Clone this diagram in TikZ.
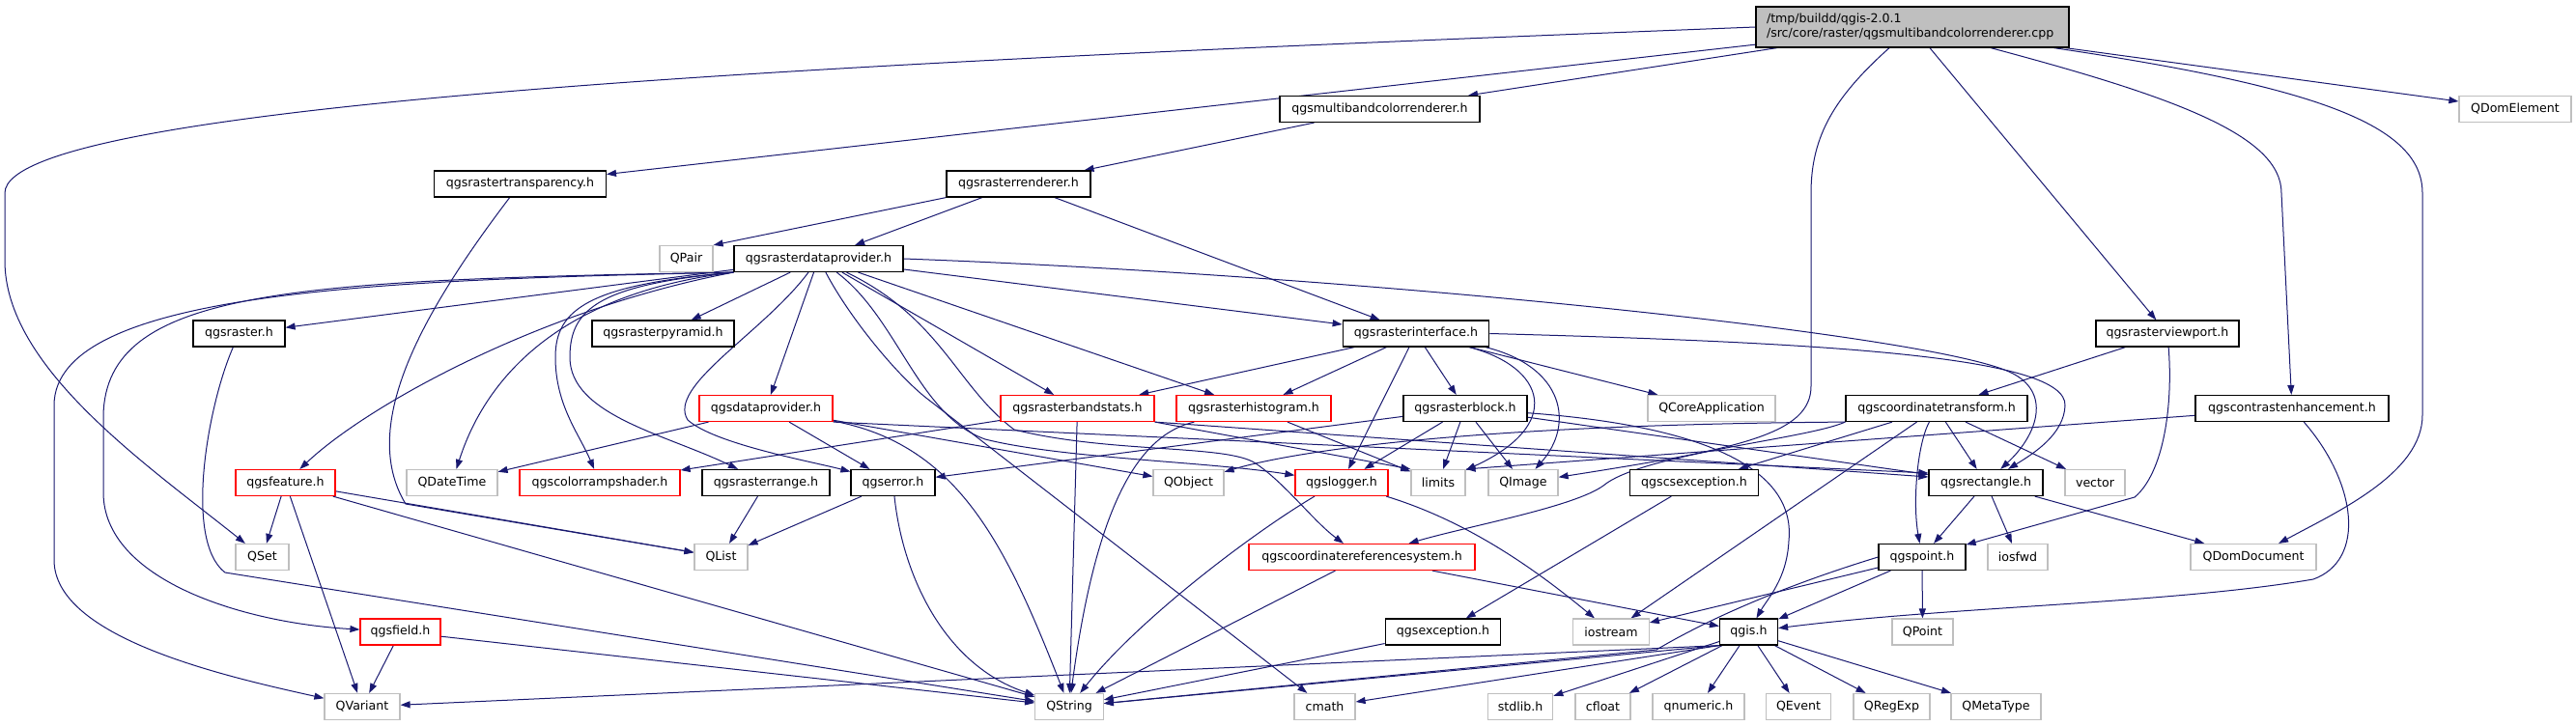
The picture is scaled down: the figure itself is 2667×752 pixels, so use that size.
\documentclass[tikz,border=0pt]{standalone}
\usepackage{fontspec}
\newfontfamily\dv{DejaVu Sans}
\usetikzlibrary{arrows.meta}
\pgfdeclarelayer{back}
\pgfdeclarelayer{bg}
\pgfsetlayers{back,bg,main}
\definecolor{edgec}{HTML}{191970}
\definecolor{grayb}{HTML}{BFBFBF}
\definecolor{rootf}{HTML}{BFBFBF}
\begin{document}
\begin{tikzpicture}[x=1pt,y=-1pt,
  nb/.style={draw=black, fill=white, line width=1.2pt, minimum height=27pt, inner sep=0pt, font=\dv\fontsize{12.6}{15}\selectfont},
  nr/.style={nb, draw=red},
  ng/.style={nb, draw=grayb},
  e/.style={draw=edgec, line width=1pt, -{Triangle[length=10pt,width=7pt]}}]
\useasboundingbox (0,0) rectangle (2667,752);
\begin{pgfonlayer}{back}
\fill[white] (0,0) rectangle (2667,752);
\end{pgfonlayer}
% nodes
\node[nb, fill=rootf, minimum width=324pt, minimum height=42pt, align=left, text width=302pt] (root) at (1980,28) {/tmp/buildd/qgis-2.0.1\\/src/core/raster/qgsmultibandcolorrenderer.cpp};
\node[nb, minimum width=207pt] (mb) at (1428.5,113) {qgsmultibandcolorrenderer.h};
\node[ng, minimum width=116pt] (qde) at (2604,113) {QDomElement};
\node[nb, minimum width=178pt] (tr) at (538.4,190.5) {qgsrastertransparency.h};
\node[nb, minimum width=149pt] (rr) at (1054.5,190.5) {qgsrasterrenderer.h};
\node[ng, minimum width=55pt] (qpair) at (710.5,268) {QPair};
\node[nb, minimum width=175pt] (dp) at (847.5,268) {qgsrasterdataprovider.h};
\node[nb, minimum width=95pt] (rh) at (247.5,345.5) {qgsraster.h};
\node[nb, minimum width=147pt] (pyr) at (686.5,345.5) {qgsrasterpyramid.h};
\node[nb, minimum width=151.5pt] (ri) at (1466,345.5) {qgsrasterinterface.h};
\node[nb, minimum width=148pt] (vp) at (2244,345.5) {qgsrasterviewport.h};
\node[nr, minimum width=138pt] (qdp) at (793,423) {qgsdataprovider.h};
\node[nr, minimum width=159pt] (bs) at (1115.5,423) {qgsrasterbandstats.h};
\node[nr, minimum width=160pt] (hist) at (1298,423) {qgsrasterhistogram.h};
\node[nb, minimum width=128pt] (blk) at (1517,423) {qgsrasterblock.h};
\node[ng, minimum width=132pt] (qca) at (1772,423) {QCoreApplication};
\node[nb, minimum width=188pt] (ct) at (2005,423) {qgscoordinatetransform.h};
\node[nb, minimum width=200pt] (ce) at (2373,423) {qgscontrastenhancement.h};
\node[nr, minimum width=103pt] (feat) at (295.5,500) {qgsfeature.h};
\node[ng, minimum width=94pt] (qdt) at (468,500) {QDateTime};
\node[nr, minimum width=166pt] (cr) at (621,500) {qgscolorrampshader.h};
\node[nb, minimum width=132pt] (rng) at (793,500) {qgsrasterrange.h};
\node[nb, minimum width=87pt] (err) at (924.5,500) {qgserror.h};
\node[ng, minimum width=73pt] (qobj) at (1230.5,500) {QObject};
\node[nr, minimum width=96pt] (log) at (1389,500) {qgslogger.h};
\node[ng, minimum width=56pt] (lim) at (1489,500) {limits};
\node[ng, minimum width=72pt] (qimg) at (1577,500) {QImage};
\node[nb, minimum width=133.5pt] (cse) at (1754,500) {qgscsexception.h};
\node[nb, minimum width=118pt] (rect) at (2056,500) {qgsrectangle.h};
\node[ng, minimum width=62pt] (vec) at (2169,500) {vector};
\node[ng, minimum width=55pt] (qset) at (271.5,577) {QSet};
\node[ng, minimum width=55pt] (qlist) at (746.5,577) {QList};
\node[nr, minimum width=234pt] (crs) at (1410,577) {qgscoordinatereferencesystem.h};
\node[nb, minimum width=90pt] (pt) at (1990,577) {qgspoint.h};
\node[ng, minimum width=62pt] (iosfwd) at (2089,577) {iosfwd};
\node[ng, minimum width=130pt] (qdd) at (2333,577) {QDomDocument};
\node[nr, minimum width=83pt] (fld) at (414.5,654.5) {qgsfield.h};
\node[nb, minimum width=119.5pt] (exc) at (1494,654.5) {qgsexception.h};
\node[ng, minimum width=78.5pt] (ios) at (1668,654.5) {iostream};
\node[nb, minimum width=60pt] (qgis) at (1810.5,654.5) {qgis.h};
\node[ng, minimum width=63pt] (qpt) at (1990.5,654.5) {QPoint};
\node[ng, minimum width=78pt] (qvar) at (375,732) {QVariant};
\node[ng, minimum width=70.5pt] (qstr) at (1107,732) {QString};
\node[ng, minimum width=63pt] (cmath) at (1371.5,732) {cmath};
\node[ng, minimum width=67.5pt] (stdl) at (1574,732) {stdlib.h};
\node[ng, minimum width=57pt] (cfl) at (1659.5,732) {cfloat};
\node[ng, minimum width=95pt] (qnum) at (1758.5,732) {qnumeric.h};
\node[ng, minimum width=67.5pt] (qev) at (1862,732) {QEvent};
\node[ng, minimum width=79pt] (qre) at (1958.5,732) {QRegExp};
\node[ng, minimum width=93pt] (qmt) at (2066.5,732) {QMetaType};
% edges
\begin{pgfonlayer}{bg}
\draw[e] (root) -- (mb);
\draw[e] (root) -- (tr);
\draw[e] (root.west) .. controls (1000,60) and (5,100) .. (5,200) -- (5,270) .. controls (5,380) and (150,480) .. (qset);
\draw[e] (root) -- (qde);
\draw[e] (root) .. controls (2400,90) and (2508,130) .. (2508,200) -- (2508,430) .. controls (2508,490) and (2420,530) .. (qdd);
\draw[e] (root) .. controls (2250,100) and (2362,140) .. (2362,200) -- (ce);
\draw[e] (root) -- (vp);
\draw[e] (root) .. controls (1900,100) and (1875,140) .. (1875,200) -- (1875,400) .. controls (1875,450) and (1800,465) .. (qimg);
\draw[e] (mb) -- (rr);
\draw[e] (tr) .. controls (440,320) and (370,440) .. (420,522) -- (qlist);
\draw[e] (rr.south west) -- (qpair.north east);
\draw[e] (rr) -- (dp);
\draw[e] (rr) -- (ri);
% rasterdataprovider
\draw[e] (dp) -- (rh);
\draw[e] (dp) -- (pyr);
\draw[e] (dp) -- (ri);
\draw[e] (dp) -- (qdp);
\draw[e] (dp) -- (bs);
\draw[e] (dp) -- (hist);
\draw[e] (dp.east) .. controls (1400,285) and (1990,345) .. (2080,385) .. controls (2125,405) and (2110,450) .. (rect);
\draw[e] (dp.south west) .. controls (400,290) and (56,300) .. (56,420) -- (56,580) .. controls (56,660) and (230,700) .. (qvar);
\draw[e] (dp.south west) .. controls (300,290) and (110,300) .. (107,430) -- (107,510) .. controls (107,600) and (250,645) .. (fld);
\draw[e] (dp.south west) .. controls (560,320) and (380,420) .. (feat);
\draw[e] (dp.south west) .. controls (570,305) and (500,400) .. (qdt);
\draw[e] (dp.south west) .. controls (610,295) and (575,320) .. (575,370) .. controls (575,420) and (600,450) .. (cr);
\draw[e] (dp.south west) .. controls (620,295) and (590,320) .. (590,370) .. controls (590,430) and (690,450) .. (rng);
\draw[e] (dp) .. controls (790,345) and (690,400) .. (712,435) .. controls (740,460) and (840,478) .. (err);
\draw[e] (dp) .. controls (880,330) and (930,390) .. (960,413) -- (cmath);
\draw[e] (dp) .. controls (975,330) and (990,400) .. (1050,445) .. controls (1150,470) and (1270,460) .. (1300,480) .. controls (1330,500) and (1360,540) .. (crs);
\draw[e] (dp) .. controls (930,330) and (950,430) .. (1020,455) .. controls (1100,475) and (1250,478) .. (log);
% qgsdataprovider
\draw[e] (qdp) -- (qdt);
\draw[e] (qdp) -- (err);
\draw[e] (qdp) -- (qobj);
\draw[e] (qdp) .. controls (990,460) and (1040,560) .. (qstr);
\draw[e] (qdp.south east) -- ([yshift=10pt]rect.west);
% rasterinterface
\draw[e] (ri) -- (bs);
\draw[e] (ri) -- (hist);
\draw[e] (ri) -- (log);
\draw[e] (ri) -- (blk);
\draw[e] (ri) -- (qca);
\draw[e] ([xshift=55pt]ri.south) .. controls (1600,380) and (1620,440) .. (lim);
\draw[e] ([xshift=72pt]ri.south) .. controls (1620,380) and (1630,440) .. (qimg);
\draw[e] (ri.east) .. controls (1900,355) and (2140,370) .. (2138,420) .. controls (2137,450) and (2105,470) .. (rect);
% rasterblock
\draw[e] (blk) -- (log);
\draw[e] (blk) -- (lim);
\draw[e] (blk) -- (qimg);
\draw[e] (blk) -- (err);
\draw[e] (blk) -- (rect);
\draw[e] (blk) .. controls (1750,440) and (1860,480) .. (1852,560) .. controls (1850,600) and (1830,620) .. (qgis);
% bandstats, histogram
\draw[e] (bs) -- (qstr);
\draw[e] (bs) -- (cr);
\draw[e] (bs.south east) -- (lim.north west);
\draw[e] (bs.south east) -- ([yshift=6pt]rect.west);
\draw[e] (hist) .. controls (1180,450) and (1135,520) .. (qstr);
\draw[e] (hist) -- (lim);
% logger, error, range
\draw[e] ([xshift=-28pt]log.south) .. controls (1300,550) and (1180,640) .. (qstr);
\draw[e] (log) .. controls (1520,540) and (1590,590) .. (ios);
\draw[e] (err) -- (qlist);
\draw[e] (err) .. controls (935,600) and (980,690) .. (qstr);
\draw[e] (rng) -- (qlist);
% feature, field, raster
\draw[e] (feat) -- (qset);
\draw[e] (feat) -- (qvar);
\draw[e] (feat) -- (qlist);
\draw[e] (feat) -- (qstr);
\draw[e] (fld) -- (qvar);
\draw[e] (fld) -- (qstr);
\draw[e] (rh) .. controls (215,420) and (190,560) .. (233,593) -- (qstr);
% viewport, transform
\draw[e] (vp) -- (ct);
\draw[e] (vp) .. controls (2250,420) and (2240,490) .. (2210,515) -- (pt);
\draw[e] (ct.south west) .. controls (1500,440) and (1330,470) .. (qobj);
\draw[e] (ct) -- (rect);
\draw[e] (ct) -- (vec);
\draw[e] (ct) -- (cse);
\draw[e] (ct) -- (ios);
\draw[e] (ct) .. controls (1985,460) and (1980,520) .. (pt);
\draw[e] (ct.south west) .. controls (1870,455) and (1700,470) .. (1660,503) .. controls (1630,525) and (1520,545) .. (crs);
% contrast
\draw[e] (ce) -- (lim.north east);
\draw[e] (ce) .. controls (2440,500) and (2450,580) .. (2395,600) .. controls (2250,625) and (2020,628) .. (qgis);
% rectangle, point, crs, exceptions
\draw[e] (rect) -- (pt);
\draw[e] (rect) -- (iosfwd);
\draw[e] (rect) -- (qdd);
\draw[e] (pt) -- (qgis);
\draw[e] (pt) -- (qpt);
\draw[e] (pt) -- (ios);
\draw[e] (pt.west) .. controls (1820,615) and (1745,655) .. (1715,673) -- (qstr);
\draw[e] (crs) -- (qstr);
\draw[e] (crs) -- (qgis);
\draw[e] (cse) -- (exc);
\draw[e] (exc) -- (qstr);
% qgis.h
\draw[e] (qgis.south west) -- (qvar);
\draw[e] (qgis.south west) -- (qstr);
\draw[e] (qgis.south west) -- (cmath);
\draw[e] (qgis) -- (stdl);
\draw[e] (qgis) -- (cfl);
\draw[e] (qgis) -- (qnum);
\draw[e] (qgis) -- (qev);
\draw[e] (qgis) -- (qre);
\draw[e] (qgis) -- (qmt);
\end{pgfonlayer}
\end{tikzpicture}
\end{document}
